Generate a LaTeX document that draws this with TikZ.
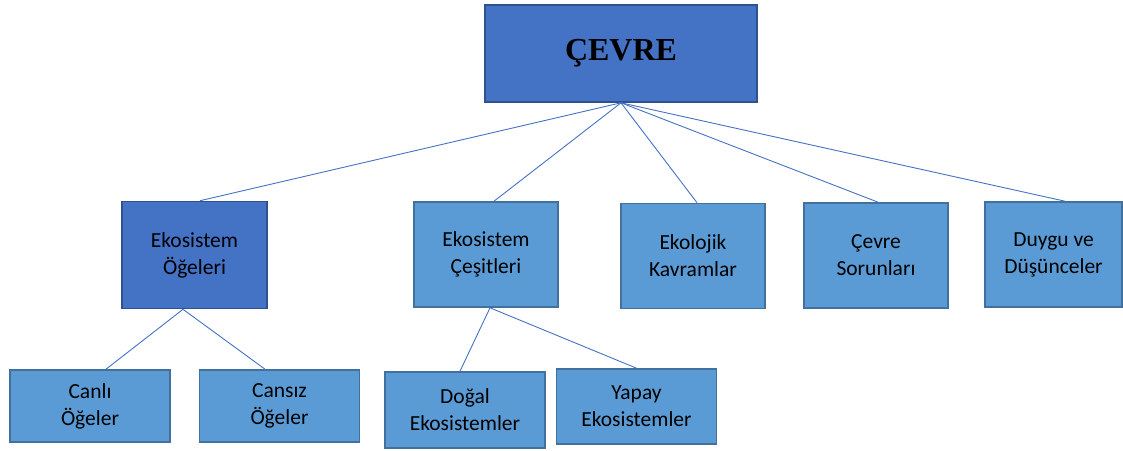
\documentclass[tikz,border=0pt]{standalone}
\usepackage{fontspec}
\setmainfont{Carlito}
\newfontfamily\titlefont{Liberation Serif}
\definecolor{darkbox}{HTML}{4472C4}
\definecolor{darkline}{HTML}{2F528F}
\definecolor{lightbox}{HTML}{5B9BD5}
\definecolor{lightline}{HTML}{41719C}

\begin{document}
\begin{tikzpicture}[x=1pt, y=-1pt,
        topbox/.style={draw=darkline, fill=darkbox, line width=1.6pt, align=center,
            font=\titlefont\fontsize{32}{36}\selectfont\bfseries},
        darkitem/.style={draw=darkline, fill=darkbox, line width=1.6pt, align=center,
            minimum width=145pt, minimum height=107pt, font=\fontsize{21.5}{27}\selectfont},
        lightitem/.style={draw=lightline, fill=lightbox, line width=1.6pt, align=center,
            minimum width=144pt, minimum height=105pt, font=\fontsize{21.5}{27}\selectfont},
        leafitem/.style={lightitem, minimum width=160pt, minimum height=72pt},
        link/.style={darkbox, line width=0.9pt}]
        \useasboundingbox (0,0) rectangle (1123,450);

        % ===== top =====
        \node[topbox, minimum width=272pt, minimum height=97pt] (cevre) at (621, 53.5) {ÇEVRE};

        % ===== second row =====
        \node[darkitem] (oge) at (194.5, 255) {Ekosistem\\Öğeleri};
        \node[lightitem] (cesit) at (486, 254.5) {Ekosistem\\Çeşitleri};
        \node[lightitem] (kavram) at (693, 256) {Ekolojik\\Kavramlar};
        \node[lightitem] (sorun) at (876, 255.5) {Çevre\\Sorunları};
        \node[lightitem, minimum width=137pt] (duygu) at (1053.5, 254.5) {Duygu ve\\Düşünceler};

        % ===== third row =====
        \node[leafitem] (canli) at (90, 406) {Canlı\\Öğeler};
        \node[leafitem] (cansiz) at (279.5, 406) {Cansız\\Öğeler};
        \node[leafitem, minimum height=76pt] (dogal) at (465, 410) {Doğal\\Ekosistemler};
        \node[leafitem, minimum height=75pt] (yapay) at (636.5, 406.5) {Yapay\\Ekosistemler};

        % links
        \draw[link] (cevre.south) -- ([xshift=5.5pt]oge.north);
        \draw[link] (cevre.south) -- ([xshift=8pt]cesit.north);
        \draw[link] (cevre.south) -- ([xshift=4pt]kavram.north);
        \draw[link] (cevre.south) -- ([xshift=2pt]sorun.north);
        \draw[link] (cevre.south) -- ([xshift=11.5pt]duygu.north);

        \draw[link] ([xshift=-11.5pt]oge.south) -- ([xshift=16pt]canli.north);
        \draw[link] ([xshift=-11.5pt]oge.south) -- ([xshift=-14.5pt]cansiz.north);
        \draw[link] ([xshift=4pt]cesit.south) -- ([xshift=-5pt]dogal.north);
        \draw[link] ([xshift=4pt]cesit.south) -- (yapay.north);
\end{tikzpicture}
\end{document}
